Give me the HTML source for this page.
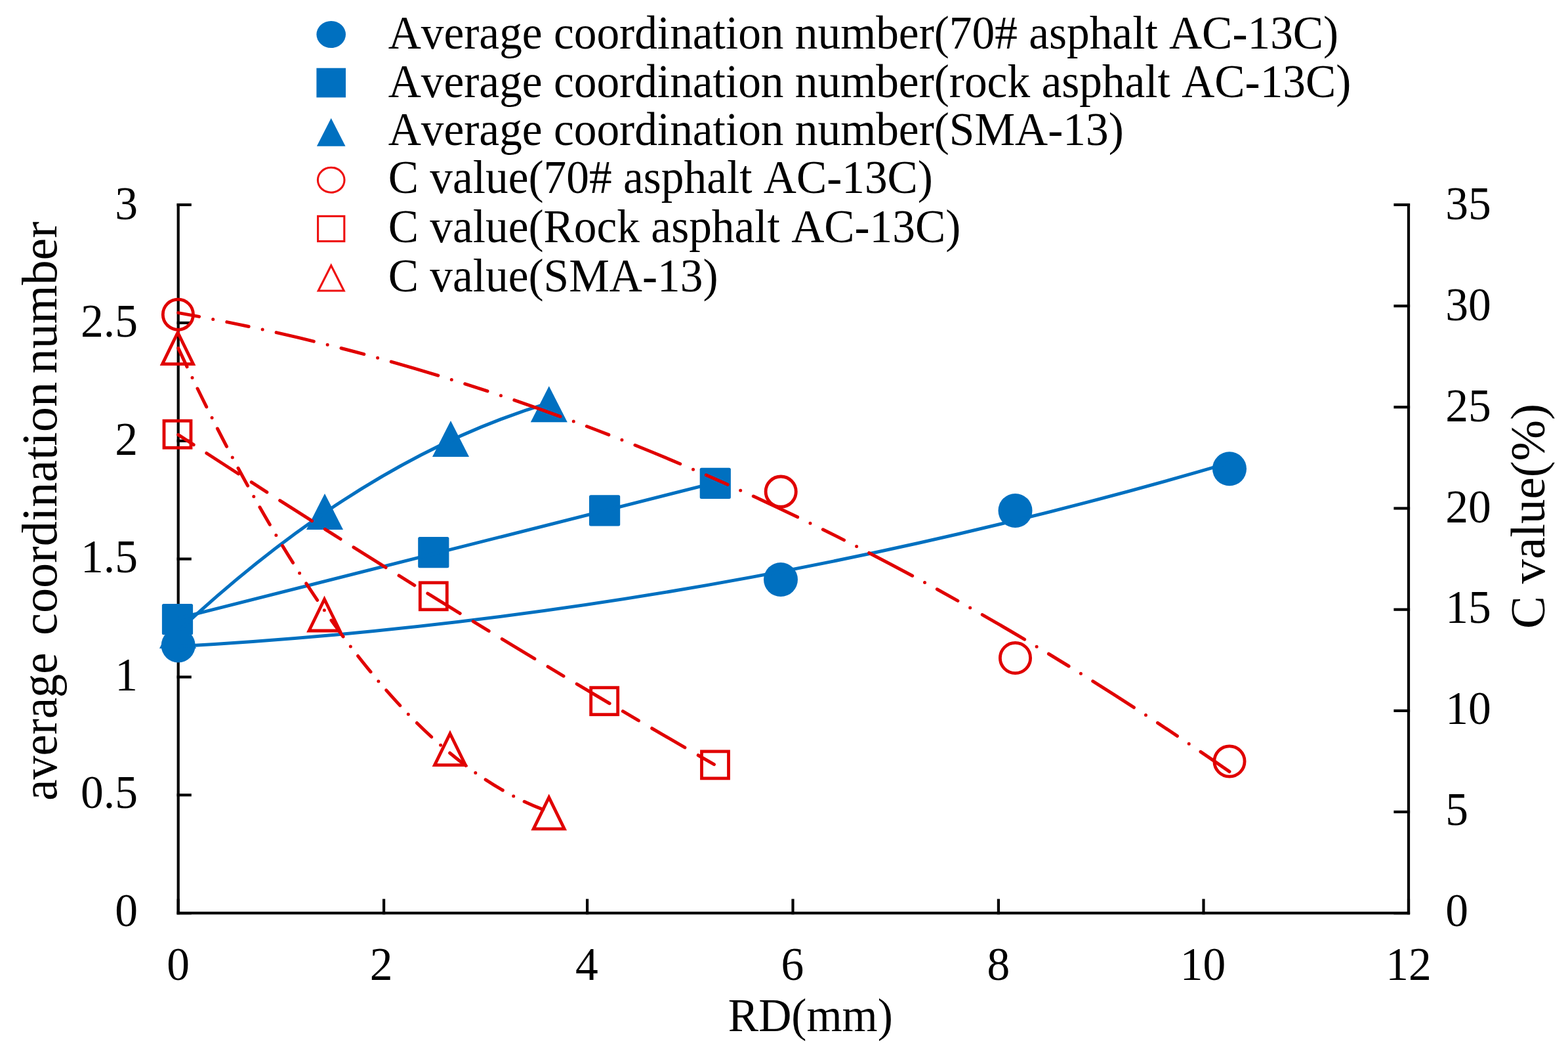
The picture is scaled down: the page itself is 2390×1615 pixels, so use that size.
<!DOCTYPE html>
<html><head><meta charset="utf-8"><style>
html,body{margin:0;padding:0;background:#fff;}
svg{display:block;}
text{font-family:"Liberation Serif","Times New Roman",serif;fill:#000;font-kerning:none;}
</style></head><body>
<svg width="2390" height="1615" viewBox="0 0 2390 1615">
<rect width="2390" height="1615" fill="#fff"/>
<g>
<g stroke="#000" stroke-width="4.2" fill="none" stroke-linecap="square">
<path d="M271.7,312.0 V1391.2 H2147.0 V312.0"/>
<path d="M271.7,1391.2 h18"/>
<path d="M271.7,1211.3 h18"/>
<path d="M271.7,1031.5 h18"/>
<path d="M271.7,851.6 h18"/>
<path d="M271.7,671.7 h18"/>
<path d="M271.7,491.9 h18"/>
<path d="M271.7,312.0 h18"/>
<path d="M2147.0,1391.2 h-20.5"/>
<path d="M2147.0,1237.0 h-20.5"/>
<path d="M2147.0,1082.9 h-20.5"/>
<path d="M2147.0,928.7 h-20.5"/>
<path d="M2147.0,774.5 h-20.5"/>
<path d="M2147.0,620.3 h-20.5"/>
<path d="M2147.0,466.2 h-20.5"/>
<path d="M2147.0,312.0 h-20.5"/>
<path d="M271.7,1391.2 v-19.5"/>
<path d="M585.1,1391.2 v-19.5"/>
<path d="M895.1,1391.2 v-19.5"/>
<path d="M1208.5,1391.2 v-19.5"/>
<path d="M1521.9,1391.2 v-19.5"/>
<path d="M1834.5,1391.2 v-19.5"/>
<path d="M2147.0,1391.2 v-19.5"/>
</g>
<g font-size="72">
<g transform="translate(210.0,0) scale(0.966,1)"><text x="0" y="1410.7" text-anchor="end">0</text></g>
<g transform="translate(210.0,0) scale(0.966,1)"><text x="0" y="1231.3" text-anchor="end">0.5</text></g>
<g transform="translate(210.0,0) scale(0.966,1)"><text x="0" y="1051.8" text-anchor="end">1</text></g>
<g transform="translate(210.0,0) scale(0.966,1)"><text x="0" y="872.4" text-anchor="end">1.5</text></g>
<g transform="translate(210.0,0) scale(0.966,1)"><text x="0" y="692.9" text-anchor="end">2</text></g>
<g transform="translate(210.0,0) scale(0.966,1)"><text x="0" y="513.5" text-anchor="end">2.5</text></g>
<g transform="translate(210.0,0) scale(0.966,1)"><text x="0" y="334.0" text-anchor="end">3</text></g>
<g transform="translate(2203.3,0) scale(0.966,1)"><text x="0" y="1411.0">0</text></g>
<g transform="translate(2203.3,0) scale(0.966,1)"><text x="0" y="1257.1">5</text></g>
<g transform="translate(2203.3,0) scale(0.966,1)"><text x="0" y="1103.3">10</text></g>
<g transform="translate(2203.3,0) scale(0.966,1)"><text x="0" y="949.4">15</text></g>
<g transform="translate(2203.3,0) scale(0.966,1)"><text x="0" y="795.6">20</text></g>
<g transform="translate(2203.3,0) scale(0.966,1)"><text x="0" y="641.7">25</text></g>
<g transform="translate(2203.3,0) scale(0.966,1)"><text x="0" y="487.9">30</text></g>
<g transform="translate(2203.3,0) scale(0.966,1)"><text x="0" y="334.0">35</text></g>
<g transform="translate(271.7,0) scale(0.966,1)"><text x="0" y="1493" text-anchor="middle">0</text></g>
<g transform="translate(581.2,0) scale(0.966,1)"><text x="0" y="1493" text-anchor="middle">2</text></g>
<g transform="translate(894.3,0) scale(0.966,1)"><text x="0" y="1493" text-anchor="middle">4</text></g>
<g transform="translate(1207.8,0) scale(0.966,1)"><text x="0" y="1493" text-anchor="middle">6</text></g>
<g transform="translate(1521.9,0) scale(0.966,1)"><text x="0" y="1493" text-anchor="middle">8</text></g>
<g transform="translate(1833.5,0) scale(0.966,1)"><text x="0" y="1493" text-anchor="middle">10</text></g>
<g transform="translate(2147.0,0) scale(0.966,1)"><text x="0" y="1493" text-anchor="middle">12</text></g>
</g>
<g transform="translate(1235.3,0) scale(0.966,1)"><text x="0" y="1571.5" font-size="72" text-anchor="middle">RD(mm)</text></g>
<text transform="translate(85.5,1219.8) rotate(-90) scale(0.964,1)" font-size="75.2">average</text>
<text transform="translate(85.5,968.0) rotate(-90) scale(1.016,1)" font-size="75.2">coordination</text>
<text transform="translate(85.5,569.2) rotate(-90) scale(1.009,1)" font-size="75.2">number</text>
<text transform="translate(2354,786.5) rotate(-90)" font-size="74.9" text-anchor="middle">C value(%)</text>
<g transform="translate(591.7,0) scale(0.9635,1)"><text x="0" y="74" font-size="72">Average coordination number(70# asphalt AC-13C)</text></g>
<g transform="translate(591.7,0) scale(0.9635,1)"><text x="0" y="148" font-size="72">Average coordination number(rock asphalt AC-13C)</text></g>
<g transform="translate(591.7,0) scale(0.9635,1)"><text x="0" y="221" font-size="72">Average coordination number(SMA-13)</text></g>
<g transform="translate(591.7,0) scale(0.9635,1)"><text x="0" y="294" font-size="72">C value(70# asphalt AC-13C)</text></g>
<g transform="translate(591.7,0) scale(0.9635,1)"><text x="0" y="369" font-size="72">C value(Rock asphalt AC-13C)</text></g>
<g transform="translate(591.7,0) scale(0.9635,1)"><text x="0" y="444.5" font-size="72">C value(SMA-13)</text></g>
<ellipse cx="504.7" cy="52.5" rx="22.3" ry="20.5" fill="#0070C0"/>
<rect x="482.4" y="103.69999999999999" width="44.6" height="44.8" fill="#0070C0"/>
<path d="M504.7,180 L526.5,222.8 L482.9,222.8 Z" fill="#0070C0"/>
<g fill="none" stroke="#EE1111" stroke-width="3.1">
<ellipse cx="504.7" cy="274.2" rx="20.3" ry="19.0"/>
<rect x="484.59999999999997" y="329.4" width="40.2" height="38.2"/>
<path d="M504.7,404.5 L524.2,443 L485.2,443 Z" stroke-linejoin="miter"/>
</g>
<g fill="#0070C0">
<path d="M271,933.0 L299,988.0 L243,988.0 Z"/>
<path d="M495,751.9 L523,806.9 L467,806.9 Z"/>
<path d="M687,640.9 L715,695.9 L659,695.9 Z"/>
<path d="M836.8,588.2 L864.8,643.2 L808.8,643.2 Z"/>
<circle cx="271.7" cy="983.4" r="26"/>
<circle cx="1190" cy="883" r="26"/>
<circle cx="1547.5" cy="778" r="26"/>
<circle cx="1874" cy="714.3" r="26"/>
<rect x="246.9" y="920.1" width="47.2" height="47.2" rx="2.5"/>
<rect x="637.1999999999999" y="818.1" width="47.2" height="47.2" rx="2.5"/>
<rect x="898.0" y="754.1999999999999" width="47.2" height="47.2" rx="2.5"/>
<rect x="1066.7" y="712.6999999999999" width="47.2" height="47.2" rx="2.5"/>
</g>
<g fill="none" stroke="#E00000" stroke-width="4.8">
<circle cx="271.4" cy="479.2" r="23.1"/>
<circle cx="1190.2" cy="749.1" r="23.1"/>
<circle cx="1547.5" cy="1002.5" r="23.1"/>
<circle cx="1874" cy="1160" r="23.1"/>
<rect x="250.0" y="641.2" width="41" height="41"/>
<rect x="640.3" y="887.8" width="41" height="41"/>
<rect x="900.7" y="1047.7" width="41" height="41"/>
<rect x="1069.5" y="1144.9" width="41" height="41"/>
<path d="M271,506.6 L294.5,554.6 L247.5,554.6 Z"/>
<path d="M494.5,913 L518.0,961 L471.0,961 Z"/>
<path d="M686,1117.7 L709.5,1165.7 L662.5,1165.7 Z"/>
<path d="M836.7,1214.9 L860.2,1262.9 L813.2,1262.9 Z"/>
</g>
<g fill="none" stroke-width="5.0">
<path d="M271.7,984.8 Q1072.8,939.9 1874.0,705.2" stroke="#0070C0"/>
<path d="M271.7,942.1 Q681.0,836.9 1090.3,735.4" stroke="#0070C0"/>
<path d="M271.7,961.5 Q554.2,697.7 836.8,613.9" stroke="#0070C0"/>
<path d="M271.7,476.6 Q1072.8,618.4 1874.0,1175.6" stroke="#E00000" stroke-linecap="round" stroke-dasharray="32.5 21.5 0 21.5 34 21.5 0 21.5 58.7 21.5 0 21.5 36 21.5 0 21.5 74.5 21.5 0 21.5 36 21.5 0 21.5 74.5 21.5 0 21.5 36 21.5 0 21.5 74.5 21.5 0 21.5 36 21.5 0 21.5 74.5 21.5 0 21.5 36 21.5 0 21.5 74.5 21.5 0 21.5 36 21.5 0 21.5 74.5 21.5 0 21.5 36 21.5 0 21.5 74.5 21.5 0 21.5 36 21.5 0 21.5 74.5 21.5 0 21.5"/>
<path d="M271.7,530.4 Q554.2,1137.2 836.7,1236.7" stroke="#E00000" stroke-linecap="round" stroke-dasharray="31 18.5 0 18.5"/>
<path d="M271.7,662.3 Q680.9,930.1 1090.0,1165.6" stroke="#E00000" stroke-linecap="round" stroke-dasharray="28 23.5 58 23.5"/>
</g>
</g></svg></body></html>
